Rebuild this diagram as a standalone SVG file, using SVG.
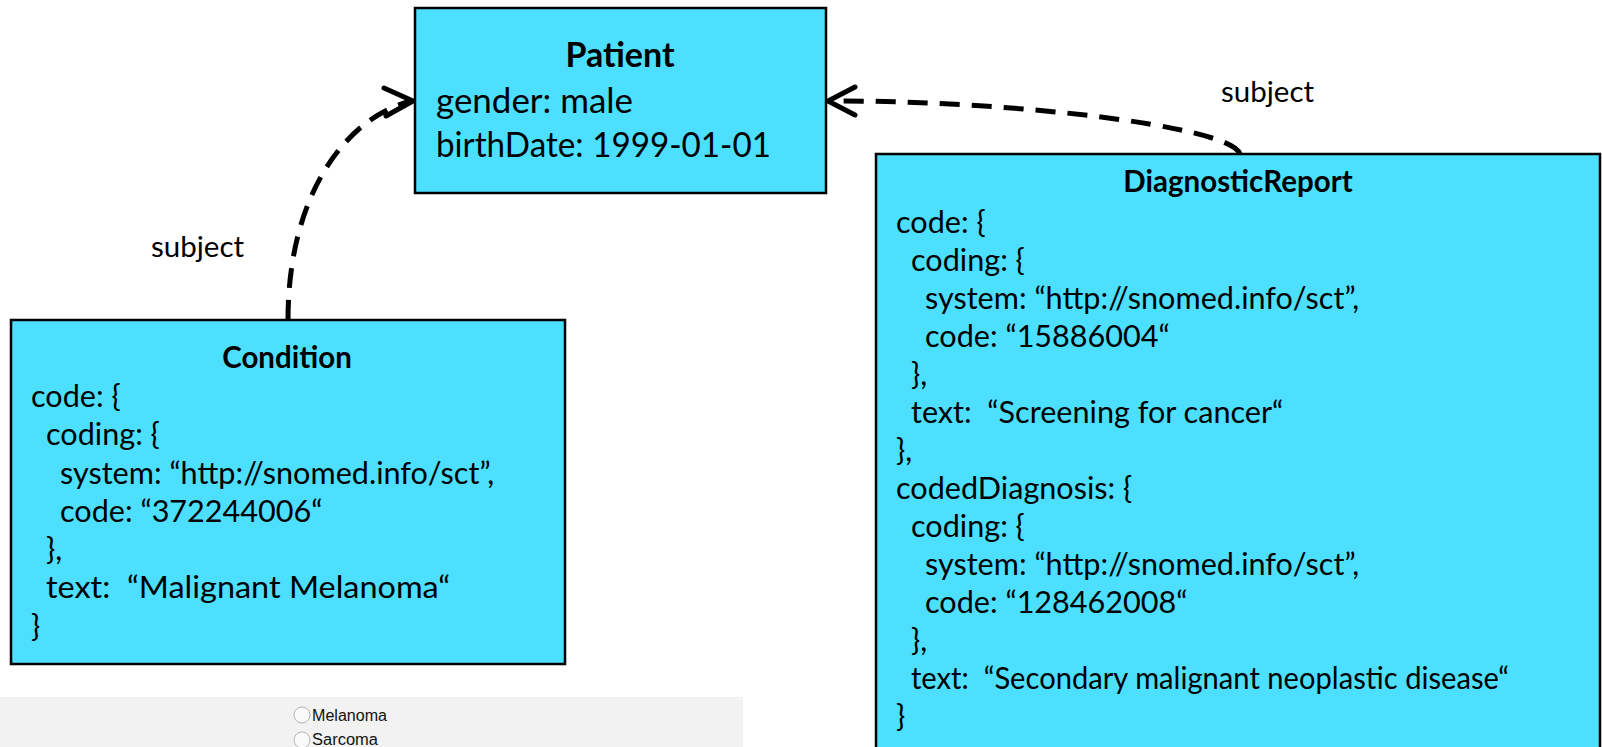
<svg xmlns="http://www.w3.org/2000/svg" width="1602" height="747" viewBox="0 0 1602 747">
  <style>
    .box { fill: #4ddfff; stroke: #000; stroke-width: 2.5; }
    .title { font-family: Lato, "Open Sans", sans-serif; font-weight: bold; text-anchor: middle; fill: #000; }
    .body { font-family: Lato, "Open Sans", sans-serif; fill: #000; }
    .link { fill: none; stroke: #000; stroke-width: 5; stroke-dasharray: 20 12; }
    .head { fill: none; stroke: #000; stroke-width: 5; stroke-linecap: round; stroke-linejoin: miter; }
    .label { font-family: Lato, "Open Sans", sans-serif; font-size: 29.5px; fill: #000; }
    .radio { fill: #fafafa; stroke: #b5b5b5; stroke-width: 1; }
    .radiotext { font-family: "Liberation Sans", Arial, sans-serif; font-size: 16px; fill: #111; }
  </style>

  <rect width="1602" height="747" fill="#ffffff"/>

  <!-- form strip with radio options -->
  <g id="choices">
    <rect x="0" y="697" width="743" height="50" fill="#f2f2f2"/>
    <circle class="radio" cx="302" cy="715" r="8"/>
    <text class="radiotext" x="312" y="721" textLength="75" lengthAdjust="spacingAndGlyphs">Melanoma</text>
    <circle class="radio" cx="302" cy="740" r="8"/>
    <text class="radiotext" x="312" y="745" textLength="66" lengthAdjust="spacingAndGlyphs">Sarcoma</text>
  </g>

  <!-- subject references -->
  <g id="connectors">
    <path class="link" d="M288,320 C288,190 350,115 412,101"/>
    <polyline class="head" points="384,88 413,101 386,116"/>
    <text class="label" x="151" y="257">subject</text>

    <path class="link" d="M1240,154 C1230,125 1000,100 829,101"/>
    <polyline class="head" points="855,87 828,101 855,115"/>
    <text class="label" x="1221" y="102">subject</text>
  </g>

  <g id="patient">
    <rect class="box" x="415" y="8" width="411" height="185"/>
    <text class="title" x="620" y="67" font-size="34">Patient</text>
    <text class="body" font-size="34.5">
      <tspan x="436" y="113" textLength="197" lengthAdjust="spacingAndGlyphs">gender: male</tspan>
      <tspan x="436" y="157" textLength="335" lengthAdjust="spacingAndGlyphs">birthDate: 1999-01-01</tspan>
    </text>
  </g>

  <g id="condition">
    <rect class="box" x="11" y="320" width="554" height="344"/>
    <text class="title" x="287" y="368" font-size="29.5">Condition</text>
    <text class="body" font-size="30.6">
      <tspan x="31" y="407">code: {</tspan>
      <tspan x="46" y="445">coding: {</tspan>
      <tspan x="60" y="484">system: “http://snomed.info/sct”,</tspan>
      <tspan x="60" y="522">code: “372244006“</tspan>
      <tspan x="46" y="560">},</tspan>
      <tspan x="46" y="598" textLength="404" lengthAdjust="spacingAndGlyphs">text:&#160; “Malignant Melanoma“</tspan>
      <tspan x="31" y="637">}</tspan>
    </text>
  </g>

  <g id="diagnostic-report">
    <rect class="box" x="876" y="154" width="724" height="620"/>
    <text class="title" x="1238" y="192" font-size="29.5">DiagnosticReport</text>
    <text class="body" font-size="30.6">
      <tspan x="896" y="233">code: {</tspan>
      <tspan x="911" y="271">coding: {</tspan>
      <tspan x="925" y="309">system: “http://snomed.info/sct”,</tspan>
      <tspan x="925" y="347">code: “15886004“</tspan>
      <tspan x="911" y="385">},</tspan>
      <tspan x="911" y="423">text:&#160; “Screening for cancer“</tspan>
      <tspan x="896" y="461">},</tspan>
      <tspan x="896" y="499">codedDiagnosis: {</tspan>
      <tspan x="911" y="537">coding: {</tspan>
      <tspan x="925" y="575">system: “http://snomed.info/sct”,</tspan>
      <tspan x="925" y="613">code: “128462008“</tspan>
      <tspan x="911" y="651">},</tspan>
      <tspan x="911" y="689" textLength="598" lengthAdjust="spacingAndGlyphs">text:&#160; “Secondary malignant neoplastic disease“</tspan>
      <tspan x="896" y="727">}</tspan>
    </text>
  </g>
</svg>
